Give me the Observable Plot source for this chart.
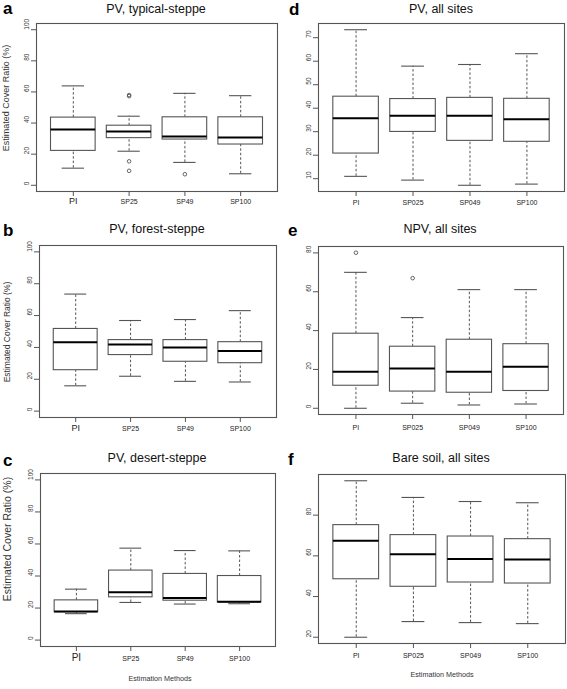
<!DOCTYPE html>
<html><head><meta charset="utf-8">
<script src="https://cdn.jsdelivr.net/npm/d3@7"></script>
<script src="https://cdn.jsdelivr.net/npm/@observablehq/plot@0.6"></script>
<style>
body{margin:0;background:#fff;}
#root{position:relative;width:567px;height:689px;overflow:hidden;font-family:"Liberation Sans",Arial,sans-serif;color:#222;background:#fff;}
.abs{position:absolute;white-space:nowrap;line-height:1;}
.plot{position:absolute;}
</style></head><body><div id="root"></div>
<script>
// Categories
const methodsLeft = ["PI", "SP25", "SP49", "SP100"];
const methodsRight = ["PI", "SP025", "SP049", "SP100"];

// Five-number stats per method: [lower whisker, Q1, median, Q3, upper whisker]
const pvTypicalSteppe = [[11.0, 22.1, 35.9, 43.5, 63.9], [21.9, 30.3, 34.6, 38.3, 44.4], [14.7, 29.4, 31.4, 43.7, 59.1], [7.4, 26.2, 30.7, 43.7, 57.6]];
const pvTypicalOutliers = [[], [57.3, 58.0, 15.4, 9.3], [7.1], []];

const pvForestSteppe = [[15.9, 25.7, 43.3, 51.6, 73.5], [21.9, 35.2, 41.8, 44.6, 56.9], [18.7, 31.0, 39.9, 44.6, 57.5], [18.3, 30.1, 37.8, 43.3, 63.1]];
const pvForestOutliers = [[], [], [], []];

const pvDesertSteppe = [[16.5, 17.4, 17.8, 24.8, 31.8], [23.5, 26.7, 29.9, 43.4, 57.4], [22.5, 24.6, 26.3, 41.3, 55.9], [22.7, 23.5, 23.9, 40.0, 55.7]];
const pvDesertOutliers = [[], [], [], []];

const pvAllSites = [[11.0, 20.7, 35.7, 44.9, 73.4], [9.4, 29.9, 36.8, 43.9, 57.9], [7.2, 26.1, 36.8, 44.4, 58.6], [7.7, 25.7, 35.3, 44.0, 63.2]];
const pvAllOutliers = [[], [], [], []];

const npvAllSites = [[0.0, 11.6, 18.8, 38.4, 70.0], [2.6, 8.6, 20.5, 31.7, 46.7], [1.7, 8.0, 18.8, 35.3, 61.1], [2.2, 8.9, 21.4, 33.0, 61.1]];
const npvAllOutliers = [[80.1], [67.0], [], []];

const bareAllSites = [[20.0, 48.5, 67.4, 75.1, 96.9], [27.7, 44.8, 60.8, 70.2, 88.7], [27.2, 46.9, 58.5, 69.5, 86.7], [26.7, 46.4, 58.2, 68.2, 86.1]];
const bareAllOutliers = [[], [], [], []];

// Tick labels
const ticksPercent = [0, 20, 40, 60, 80, 100];
const ticksPvAll = [10, 20, 30, 40, 50, 60, 70];
const ticksNpv = [0, 20, 40, 60, 80];
const ticksBare = [20, 40, 60, 80];

// Titles
const titles = ["PV, typical-steppe", "PV, forest-steppe", "PV, desert-steppe", "PV, all sites", "NPV, all sites", "Bare soil, all sites"];
const letters = ["a", "b", "c", "d", "e", "f"];
const yTitle = "Estimated Cover Ratio (%)";
const xTitle = "Estimation Methods";

const root = document.getElementById("root");
const FONT = '"Liberation Sans", Arial, sans-serif';

function addText(txt, css) {
  const d = document.createElement("div");
  d.className = "abs";
  d.textContent = txt;
  Object.assign(d.style, css);
  root.appendChild(d);
  return d;
}

function expand(lo, hi) { const p = (hi - lo) * 0.04; return [lo - p, hi + p]; }

function panel(cfg) {
  const {x0, L, R, T, B, cats, stats, outliers, yTicks, fixed, piSize, labelDy} = cfg;
  const rows = cats.map((c, k) => ({cat: c, i: k + 1, lo: stats[k][0], q1: stats[k][1], med: stats[k][2], q3: stats[k][3], hi: stats[k][4]}));
  const outs = outliers.flatMap((arr, k) => arr.map(v => ({i: k + 1, v})));
  const allVals = rows.flatMap(r => [r.lo, r.hi]).concat(outs.map(o => o.v));
  const yDomain = fixed ? expand(0, 100) : expand(d3.min(allVals), d3.max(allVals));
  const mt = 4, mb = 24;
  const W = 283;
  const chart = Plot.plot({
    width: W,
    height: B - T + mt + mb,
    marginLeft: L - x0,
    marginRight: x0 + W - R,
    marginTop: mt,
    marginBottom: mb,
    x: {domain: [0.34, 4.66], label: null},
    y: {domain: yDomain, label: null},
    style: {fontFamily: FONT, background: "transparent", overflow: "visible"},
    marks: [
      Plot.ruleX(rows, {x: "i", y1: "q3", y2: "hi", stroke: "#555", strokeWidth: 1, strokeDasharray: "2.5,2"}),
      Plot.ruleX(rows, {x: "i", y1: "lo", y2: "q1", stroke: "#555", strokeWidth: 1, strokeDasharray: "2.5,2"}),
      Plot.ruleY(rows, {y: "hi", x1: d => d.i - 0.2, x2: d => d.i + 0.2, stroke: "#555", strokeWidth: 1.1}),
      Plot.ruleY(rows, {y: "lo", x1: d => d.i - 0.2, x2: d => d.i + 0.2, stroke: "#555", strokeWidth: 1.1}),
      Plot.rect(rows, {x1: d => d.i - 0.4, x2: d => d.i + 0.4, y1: "q1", y2: "q3", fill: "white", stroke: "#555", strokeWidth: 1.1}),
      Plot.ruleY(rows, {y: "med", x1: d => d.i - 0.4, x2: d => d.i + 0.4, stroke: "#000", strokeWidth: 2}),
      Plot.dot(outs, {x: "i", y: "v", r: 1.8, stroke: "#555", fill: "none", strokeWidth: 0.9}),
      Plot.frame({stroke: "#555", strokeWidth: 1.1}),
      Plot.axisX({ticks: [1, 2, 3, 4], tickSize: 5, tickFormat: () => "", stroke: "#555", label: null}),
      Plot.axisY({ticks: yTicks, tickSize: 5, tickFormat: () => "", stroke: "#555", label: null}),
      Plot.text(yTicks, {y: d => d, text: d => String(d), frameAnchor: "left", dx: -10, rotate: -90, fontSize: 6.5, fill: "#333"}),
      Plot.text(rows.filter(r => r.cat === "PI"), {x: "i", text: "cat", frameAnchor: "bottom", dy: labelDy, fontSize: piSize, fill: "#222"}),
      Plot.text(rows.filter(r => r.cat !== "PI"), {x: "i", text: "cat", frameAnchor: "bottom", dy: labelDy, fontSize: 7, fill: "#222"})
    ]
  });
  chart.classList.add("plot");
  chart.style.left = x0 + "px";
  chart.style.top = (T - mt) + "px";
  root.appendChild(chart);
}

const left = 0, right = 283;
panel({x0: left, L: 36, R: 277, T: 23, B: 191, cats: methodsLeft, stats: pvTypicalSteppe, outliers: pvTypicalOutliers, yTicks: ticksPercent, fixed: true, piSize: 9, labelDy: 12});
panel({x0: left, L: 39, R: 276, T: 245, B: 417, cats: methodsLeft, stats: pvForestSteppe, outliers: pvForestOutliers, yTicks: ticksPercent, fixed: true, piSize: 9, labelDy: 13});
panel({x0: left, L: 40, R: 275, T: 473, B: 646, cats: methodsLeft, stats: pvDesertSteppe, outliers: pvDesertOutliers, yTicks: ticksPercent, fixed: true, piSize: 10, labelDy: 14});
panel({x0: right, L: 318, R: 564, T: 23, B: 191, cats: methodsRight, stats: pvAllSites, outliers: pvAllOutliers, yTicks: ticksPvAll, fixed: false, piSize: 7, labelDy: 13});
panel({x0: right, L: 318, R: 563, T: 246, B: 414, cats: methodsRight, stats: npvAllSites, outliers: npvAllOutliers, yTicks: ticksNpv, fixed: false, piSize: 7, labelDy: 15});
panel({x0: right, L: 318, R: 565, T: 474, B: 643, cats: methodsRight, stats: bareAllSites, outliers: bareAllOutliers, yTicks: ticksBare, fixed: false, piSize: 7, labelDy: 14});

// Titles (centered on frame), baselines approx
const titlePos = [[156, 14], [157, 234], [157, 463], [441, 14], [440, 234], [441, 463]];
titles.forEach((t, k) => {
  const [cx, base] = titlePos[k];
  addText(t, {left: cx + "px", top: (base - 10.6) + "px", fontSize: "12.5px", transform: "translateX(-50%)", color: "#111"});
});
const letterPos = [[3, 14], [3, 236], [3, 466], [289, 15], [288, 236], [288, 465]];
letters.forEach((t, k) => {
  const [x, base] = letterPos[k];
  addText(t, {left: x + "px", top: (base - 14.5) + "px", fontSize: "17px", fontWeight: "bold", color: "#000"});
});
// Y-axis titles (left column)
const yTitlePos = [[6, 98, 9], [6.7, 332, 8.5], [7.3, 539, 10.5]];
yTitlePos.forEach(([x, y, fs]) => {
  addText(yTitle, {left: x + "px", top: y + "px", fontSize: fs + "px", transform: "translate(-50%,-50%) rotate(-90deg)", color: "#333"});
});
// X-axis titles (bottom row)
[[160, 679], [442, 675]].forEach(([x, y]) => {
  addText(xTitle, {left: x + "px", top: y + "px", fontSize: "7.2px", transform: "translate(-50%,-50%)", color: "#333"});
});
</script></body></html>
